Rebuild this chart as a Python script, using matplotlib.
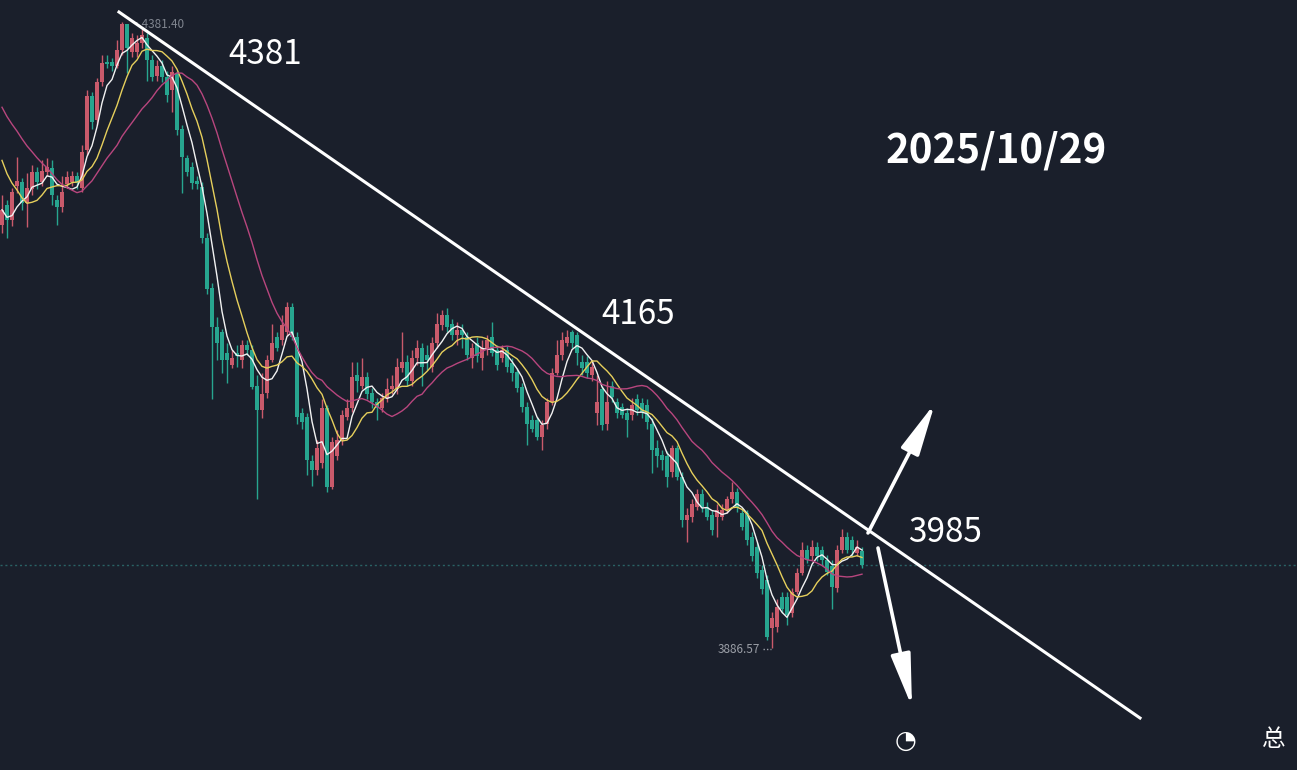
import matplotlib.pyplot as plt
import numpy as np
import pandas as pd

plt.rcParams['font.family'] = ['Noto Sans CJK SC', 'DejaVu Sans']

# daily candles, prices
opens = [4221, 4237, 4225, 4252, 4255, 4238, 4249, 4263, 4255, 4263,
         4266, 4241, 4235, 4253, 4255, 4260, 4250, 4280, 4323, 4304,
         4334, 4350, 4350, 4347, 4359, 4380, 4358, 4358, 4365, 4369,
         4351, 4339, 4347, 4338, 4328, 4341, 4297, 4274, 4267, 4256,
         4251, 4211, 4171, 4140, 4136, 4120, 4110, 4120, 4114, 4126,
         4122, 4094, 4075, 4088, 4114, 4132, 4130, 4136, 4156, 4132,
         4072, 4069, 4034, 4027, 4033, 4076, 4014, 4038, 4051, 4069,
         4076, 4102, 4094, 4101, 4088, 4081, 4076, 4084, 4091, 4091,
         4108, 4113, 4098, 4116, 4124, 4118, 4109, 4128, 4142, 4150,
         4143, 4134, 4138, 4132, 4116, 4128, 4116, 4122, 4132, 4122,
         4116, 4122, 4112, 4105, 4093, 4077, 4067, 4067, 4053, 4064,
         4081, 4104, 4118, 4128, 4136, 4134, 4113, 4113, 4102, 4072,
         4091, 4064, 4094, 4081, 4077, 4072, 4071, 4083, 4080, 4079,
         4064, 4045, 4039, 4038, 4026, 4045, 4022, 3988, 3990, 3998,
         4008, 3998, 3992, 3990, 3990, 3996, 4004, 4010, 3993, 3993,
         3974, 3966, 3948, 3940, 3902, 3903, 3927, 3927, 3914, 3931,
         3946, 3964, 3959, 3966, 3964, 3956, 3951, 3934, 3964, 3974,
         3972, 3962, 3963]
closes = [4233, 4225, 4247, 4256, 4238, 4250, 4263, 4255, 4264, 4267,
          4245, 4235, 4247, 4259, 4260, 4254, 4279, 4323, 4302, 4334,
          4349, 4348, 4347, 4359, 4380, 4361, 4369, 4365, 4371, 4351,
          4338, 4347, 4338, 4324, 4342, 4296, 4275, 4263, 4254, 4253,
          4211, 4170, 4140, 4128, 4114, 4114, 4116, 4117, 4126, 4122,
          4093, 4075, 4087, 4114, 4128, 4124, 4142, 4156, 4132, 4069,
          4065, 4035, 4027, 4045, 4076, 4014, 4049, 4051, 4071, 4076,
          4101, 4098, 4101, 4087, 4081, 4076, 4084, 4091, 4094, 4109,
          4113, 4098, 4116, 4124, 4109, 4114, 4128, 4143, 4150, 4140,
          4134, 4138, 4134, 4118, 4124, 4117, 4124, 4130, 4120, 4110,
          4122, 4109, 4104, 4092, 4077, 4064, 4060, 4053, 4063, 4081,
          4104, 4118, 4130, 4132, 4128, 4120, 4108, 4104, 4109, 4081,
          4063, 4081, 4085, 4072, 4071, 4067, 4079, 4075, 4073, 4065,
          4043, 4038, 4035, 4022, 4045, 4022, 3988, 3992, 4000, 4008,
          3998, 3990, 3980, 3996, 3996, 4004, 4010, 3997, 3982, 3972,
          3959, 3946, 3933, 3895, 3910, 3919, 3917, 3913, 3931, 3946,
          3964, 3956, 3966, 3959, 3956, 3947, 3935, 3964, 3974, 3964,
          3964, 3966, 3952]
highs = [4245, 4241, 4250, 4275, 4258, 4262, 4268, 4267, 4272, 4274,
         4272, 4245, 4260, 4264, 4264, 4263, 4284, 4328, 4326, 4337,
         4355, 4355, 4353, 4367, 4381.4, 4380, 4373, 4371, 4376, 4373,
         4355, 4351, 4351, 4343, 4347, 4343, 4300, 4276, 4271, 4260,
         4255, 4215, 4175, 4148, 4139, 4128, 4122, 4126, 4130, 4130,
         4126, 4102, 4104, 4118, 4143, 4136, 4150, 4160, 4159, 4136,
         4076, 4072, 4039, 4051, 4083, 4079, 4053, 4059, 4075, 4083,
         4113, 4113, 4116, 4105, 4092, 4084, 4088, 4100, 4102, 4116,
         4136, 4118, 4122, 4130, 4128, 4126, 4132, 4151, 4154, 4155,
         4147, 4144, 4143, 4136, 4128, 4132, 4130, 4134, 4144, 4126,
         4126, 4125, 4116, 4108, 4096, 4081, 4071, 4069, 4067, 4084,
         4108, 4130, 4136, 4138, 4138, 4136, 4118, 4117, 4114, 4102,
         4094, 4098, 4098, 4084, 4080, 4076, 4084, 4087, 4084, 4083,
         4068, 4051, 4043, 4042, 4047, 4047, 4026, 3997, 4004, 4012,
         4012, 4002, 3996, 4000, 4000, 4007, 4018, 4013, 3997, 3996,
         3978, 3970, 3952, 3944, 3915, 3925, 3931, 3931, 3934, 3950,
         3970, 3968, 3972, 3970, 3967, 3960, 3956, 3968, 3981, 3978,
         3975, 3972, 3966]
lows = [4215, 4211, 4220, 4246, 4233, 4219, 4245, 4249, 4252, 4260,
        4237, 4221, 4231, 4250, 4252, 4249, 4247, 4276, 4297, 4300,
        4331, 4345, 4343, 4345, 4355, 4341, 4354, 4354, 4361, 4335,
        4335, 4335, 4334, 4318, 4310, 4292, 4246, 4260, 4249, 4249,
        4207, 4166, 4083, 4114, 4104, 4096, 4108, 4109, 4108, 4118,
        4091, 4004, 4068, 4084, 4113, 4121, 4126, 4133, 4130, 4064,
        4060, 4023, 4015, 4023, 4029, 4010, 4012, 4035, 4047, 4067,
        4073, 4089, 4091, 4083, 4076, 4067, 4073, 4081, 4087, 4087,
        4105, 4094, 4094, 4110, 4094, 4106, 4105, 4124, 4138, 4136,
        4130, 4126, 4124, 4114, 4108, 4113, 4106, 4118, 4117, 4106,
        4113, 4105, 4098, 4089, 4073, 4047, 4057, 4051, 4043, 4060,
        4079, 4102, 4114, 4125, 4124, 4110, 4102, 4100, 4098, 4063,
        4059, 4059, 4081, 4068, 4068, 4053, 4067, 4071, 4068, 4060,
        4025, 4030, 4027, 4014, 4022, 4019, 3982, 3970, 3986, 3996,
        3994, 3988, 3976, 3974, 3988, 3993, 4001, 3994, 3980, 3968,
        3955, 3942, 3929, 3893, 3886.57, 3899, 3914, 3905, 3911, 3929,
        3944, 3954, 3956, 3955, 3952, 3944, 3917, 3931, 3962, 3962,
        3959, 3959, 3950]
# closes before the visible window (only feed the moving averages)
warmup_closes = [4372, 4368, 4365, 4360, 4362, 4355, 4350, 4348, 4342, 4338,
                 4330, 4322, 4310, 4300, 4293, 4255, 4240, 4222, 4215]

ma_periods = [5, 10, 20]
ma_colors = ['#f2f2f2', '#e6cf5c', '#b8467e']

bg = '#1a1f2b'
red = '#c95a6b'
teal = '#27a58f'

o = np.array(opens, dtype=float)
c = np.array(closes, dtype=float)
h = np.array(highs, dtype=float)
l = np.array(lows, dtype=float)
x = np.arange(len(c))
col = np.where(c > o, red, teal)

fig = plt.figure(figsize=(12.97, 7.70), dpi=100)
fig.patch.set_facecolor(bg)
ax = fig.add_axes([0, 0, 1, 1])
ax.set_facecolor(bg)

# last price dotted line
ax.axhline(c[-1], color='#2a6265', lw=1, ls=(0, (1.5, 2)), zorder=1)

ax.vlines(x, l, h, colors=col, lw=1, zorder=2)
body = np.maximum(np.abs(c - o), 0.8)
ax.bar(x, body, bottom=np.minimum(o, c), width=0.68, color=col, zorder=3)

full = pd.Series(warmup_closes + closes, dtype=float)
for n, mc in zip(ma_periods, ma_colors):
    ma = full.rolling(n).mean().iloc[len(warmup_closes):].values
    ax.plot(x, ma, color=mc, lw=1.0, zorder=4)

ax.set_xlim(-0.4, 259.0)
ax.set_ylim(3790.1, 4398.8)
ax.axis('off')

# trend line and arrows
ax.plot([23.4, 227.6], [4389.3, 3831.2], color='white', lw=2.2, zorder=5)
arrow = dict(arrowstyle='-|>,head_length=1.6,head_width=0.3', color='white',
             lw=2.6, mutation_scale=20, shrinkA=0, shrinkB=0)
ax.annotate('', xy=(186.6, 4080.2), xytext=(173.2, 3977.5), arrowprops=arrow, zorder=6)
ax.annotate('', xy=(182.0, 3839.9), xytext=(175.2, 3965.6), arrowprops=arrow, zorder=6)

# high / low markers
ax.text(26.6, 4379.8, '\u02d1 4381.40', color='#80858f', fontsize=8.5, va='center', ha='left')
ax.text(151.6, 3885.0, '3886.57', color='#9a9ea6', fontsize=8.5, va='center', ha='right')
ax.plot([152.2, 153.8], [3885.8, 3885.8], color='#9a9ea6', lw=1, ls=(0, (1, 1.5)))

W, H = 1297, 770
fig.text(228 / W, 1 - 55 / H, '4381', color='white', fontsize=24, va='center', ha='left')
fig.text(601 / W, 1 - 314 / H, '4165', color='white', fontsize=24, va='center', ha='left')
fig.text(908 / W, 1 - 532 / H, '3985', color='white', fontsize=24, va='center', ha='left')
fig.text(886 / W, 1 - 151 / H, '2025/10/29', color='white', fontsize=29,
         fontweight='bold', va='center', ha='left')

# watermark
fig.text(895 / W, 1 - 741 / H, '\u25d4', color='white', fontsize=18, va='center', ha='left')
fig.text(1262 / W, 1 - 740 / H, '总', color='white', fontsize=17, va='center', ha='left')

fig.savefig('out.png', dpi=100, facecolor=bg)
